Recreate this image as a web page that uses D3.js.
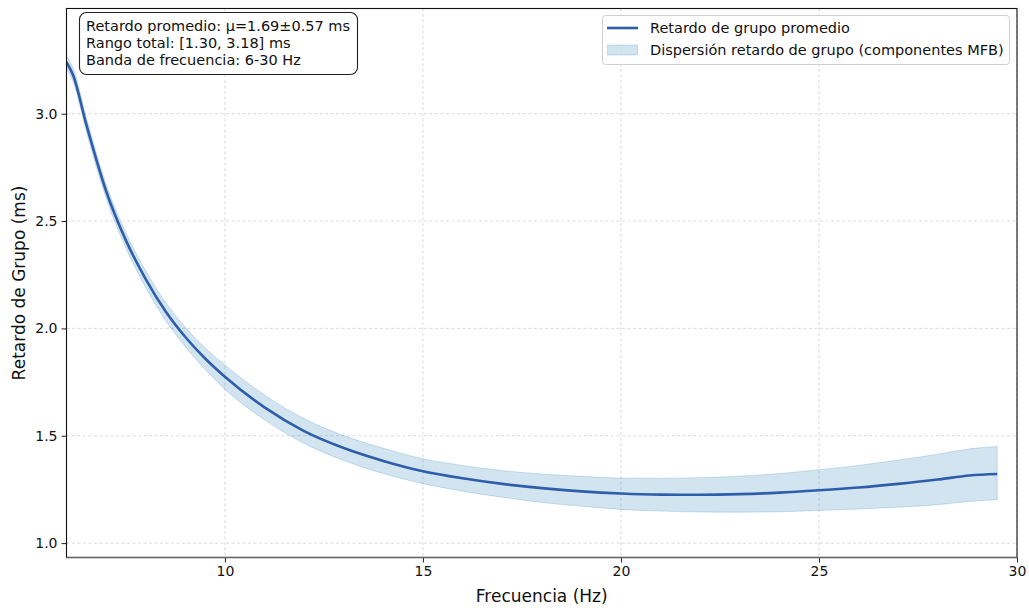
<!DOCTYPE html>
<html>
<head>
<meta charset="utf-8">
<script src="https://cdn.jsdelivr.net/npm/d3@7"></script>
<style>
  body { margin: 0; background: #fff; }
  svg text { font-family: "DejaVu Sans", sans-serif; }
</style>
</head>
<body>
<div id="chart"></div>
<script>
// Data
const freqs = [6.0, 6.17, 6.5, 7.0, 7.5, 8.0, 8.5, 9.0, 9.5, 10, 11, 12, 13, 14, 15, 16, 17, 18, 19, 20,
               21, 22, 23, 24, 25, 26, 27, 28, 28.8, 29.5];
const meanDelay = [3.240, 3.178, 2.950, 2.640, 2.410, 2.230, 2.080, 1.960, 1.860, 1.775, 1.632, 1.522,
                   1.443, 1.383, 1.335, 1.302, 1.276, 1.256, 1.241, 1.231, 1.226, 1.225, 1.228, 1.235,
                   1.246, 1.259, 1.276, 1.296, 1.315, 1.322];
const upperDelay = [3.270, 3.210, 2.982, 2.673, 2.446, 2.269, 2.122, 2.005, 1.910, 1.830, 1.690, 1.580,
                    1.501, 1.442, 1.393, 1.362, 1.338, 1.322, 1.311, 1.303, 1.302, 1.305, 1.312, 1.324,
                    1.342, 1.362, 1.387, 1.414, 1.439, 1.450];
const lowerDelay = [3.210, 3.148, 2.918, 2.607, 2.374, 2.191, 2.038, 1.915, 1.810, 1.717, 1.574, 1.464,
                    1.385, 1.324, 1.277, 1.242, 1.214, 1.189, 1.172, 1.157, 1.149, 1.145, 1.144, 1.146,
                    1.152, 1.159, 1.167, 1.179, 1.194, 1.202];
const xTicks = [10, 15, 20, 25, 30];
const yTicks = [1.0, 1.5, 2.0, 2.5, 3.0];
const infoLines = [
  "Retardo promedio: μ=1.69±0.57 ms",
  "Rango total: [1.30, 3.18] ms",
  "Banda de frecuencia: 6-30 Hz"
];

const width = 1029, height = 608;
const margin = { left: 66.5, right: 12, top: 8.5, bottom: 50.5 };
const x0 = margin.left, x1 = width - margin.right;
const y0 = margin.top, y1 = height - margin.bottom;

const svg = d3.select("#chart").append("svg")
  .attr("width", width).attr("height", height);

const x = d3.scaleLinear().domain([6, 30]).range([x0, x1]);
const y = d3.scaleLinear().domain([0.933, 3.49]).range([y1, y0]);

const rows = freqs.map((f, i) => ({ f, m: meanDelay[i], u: upperDelay[i], l: lowerDelay[i] }));

// grid
const grid = svg.append("g").attr("stroke", "#b0b0b0").attr("stroke-opacity", 0.6)
  .attr("stroke-width", 0.8).attr("stroke-dasharray", "3,2.5");
xTicks.forEach(t => grid.append("line").attr("x1", x(t)).attr("x2", x(t)).attr("y1", y0).attr("y2", y1));
yTicks.forEach(t => grid.append("line").attr("x1", x0).attr("x2", x1).attr("y1", y(t)).attr("y2", y(t)));

// clip to axes
svg.append("defs").append("clipPath").attr("id", "clip")
  .append("rect").attr("x", x0).attr("y", y0).attr("width", x1 - x0).attr("height", y1 - y0);
const plot = svg.append("g").attr("clip-path", "url(#clip)");

// band
const area = d3.area().x(d => x(d.f)).y0(d => y(d.l)).y1(d => y(d.u)).curve(d3.curveMonotoneX);
plot.append("path").datum(rows).attr("d", area)
  .attr("fill", "#1f77b4").attr("fill-opacity", 0.2)
  .attr("stroke", "#1f77b4").attr("stroke-opacity", 0.2).attr("stroke-width", 1);

// mean line
const line = d3.line().x(d => x(d.f)).y(d => y(d.m)).curve(d3.curveMonotoneX);
plot.append("path").datum(rows).attr("d", line)
  .attr("fill", "none").attr("stroke", "#2e5daa").attr("stroke-width", 2.6);

// axes
const xAxis = svg.append("g").attr("transform", `translate(0,${y1})`)
  .call(d3.axisBottom(x).tickValues(xTicks).tickSize(5).tickPadding(4).tickFormat(d3.format("d")));
const yAxis = svg.append("g").attr("transform", `translate(${x0},0)`)
  .call(d3.axisLeft(y).tickValues(yTicks).tickSize(5).tickPadding(4).tickFormat(d3.format(".1f")));
[xAxis, yAxis].forEach(a => {
  a.select(".domain").remove();
  a.selectAll("text").attr("font-size", 14).attr("fill", "#111").style("font-family", "DejaVu Sans");
  a.selectAll(".tick line").attr("stroke", "#222");
});

// spines
svg.append("rect").attr("x", x0).attr("y", y0).attr("width", x1 - x0).attr("height", y1 - y0)
  .attr("fill", "none").attr("stroke", "#111").attr("stroke-width", 1.1);
svg.append("line").attr("x1", x0).attr("x2", x1).attr("y1", y1).attr("y2", y1)
  .attr("stroke", "#666").attr("stroke-width", 1.6);

// axis labels
svg.append("text").attr("x", (x0 + x1) / 2).attr("y", 602).attr("text-anchor", "middle")
  .attr("font-size", 17).attr("fill", "#111").text("Frecuencia (Hz)");
svg.append("text").attr("transform", `translate(25,${(y0 + y1) / 2}) rotate(-90)`)
  .attr("text-anchor", "middle").attr("font-size", 17).attr("fill", "#111").text("Retardo de Grupo (ms)");

// info box
const info = svg.append("g");
info.append("rect").attr("x", 79.5).attr("y", 12.5).attr("width", 278).attr("height", 62).attr("rx", 7)
  .attr("fill", "#fff").attr("fill-opacity", 0.85).attr("stroke", "#222").attr("stroke-width", 1.1);
infoLines.forEach((t, i) => {
  info.append("text").attr("x", 86).attr("y", 31 + i * 17).attr("font-size", 14.5).attr("fill", "#111").text(t);
});

// legend
const legend = svg.append("g");
legend.append("rect").attr("x", 602.5).attr("y", 15.5).attr("width", 407).attr("height", 49).attr("rx", 3)
  .attr("fill", "#fff").attr("fill-opacity", 0.8).attr("stroke", "#d0d0d0").attr("stroke-width", 1);
legend.append("line").attr("x1", 607).attr("x2", 638).attr("y1", 28).attr("y2", 28)
  .attr("stroke", "#2e5daa").attr("stroke-width", 2.6);
legend.append("text").attr("x", 650).attr("y", 33).attr("font-size", 14.5).attr("fill", "#111")
  .text("Retardo de grupo promedio");
legend.append("rect").attr("x", 607.5).attr("y", 45).attr("width", 30).attr("height", 10)
  .attr("fill", "#1f77b4").attr("fill-opacity", 0.2).attr("stroke", "#1f77b4").attr("stroke-opacity", 0.2);
legend.append("text").attr("x", 650).attr("y", 55).attr("font-size", 14.5).attr("fill", "#111")
  .text("Dispersión retardo de grupo (componentes MFB)");
</script>
</body>
</html>
